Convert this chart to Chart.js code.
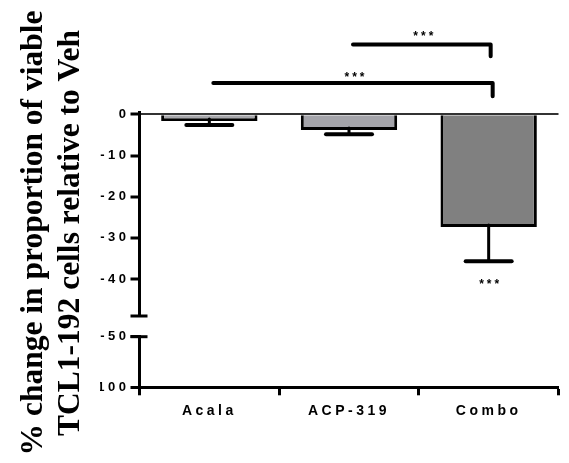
<!DOCTYPE html>
<html>
<head>
<meta charset="utf-8">
<script src="https://cdn.jsdelivr.net/npm/chart.js@4"></script>
<style>
  html, body { margin: 0; padding: 0; background: #fff; }
  #wrap { width: 569px; height: 463px; position: relative; }
</style>
</head>
<body>
<div id="wrap"><canvas id="chart"></canvas></div>
<script>
// values (% change vs vehicle, mean and SEM)
const categories = ['Acala', 'ACP-319', 'Combo'];
const meanChange = [-1.6, -3.8, -27.4];
const semChange = [1.0, 1.05, 8.3];

// broken y axis: upper segment and lower segment
const upperTicks = [0, -10, -20, -30, -40];
const lowerTicks = [-50, -100];
const upperRange = [-49, 0.4];
const lowerRange = [-100, -50];

// significance brackets (levels in upper-axis units)
const bracketFrom = [1, 0];
const bracketTo = [2, 2];
const bracketLevel = [17.0, 7.6];
const bracketDrop = [14.1, 4.4];
const bracketStarLevel = [19.5, 9.6];
const comboStarLevel = -40.6;

const yTitle = ['% change in proportion of viable', 'TCL1-192 cells relative to Veh'];

Chart.defaults.font.family = '"Liberation Sans", Arial, sans-serif';
Chart.defaults.font.weight = 'bold';
Chart.defaults.color = '#000';

const xFont = { family: '"Liberation Sans", Arial, sans-serif', size: 14, weight: 'bold' };
const yFont = { family: '"Liberation Sans", Arial, sans-serif', size: 13, weight: 'bold' };

const spacing = {
    id: 'spacing',
    beforeDraw(chart) { chart.ctx.letterSpacing = '3.5px'; }
};

const extras = {
    id: 'extras',
    afterDatasetsDraw(chart) {
        const ctx = chart.ctx;
        const x = chart.scales.x, y = chart.scales.y, y2 = chart.scales.y2;
        const meta = chart.getDatasetMeta(0);
        ctx.save();
        ctx.strokeStyle = '#000';
        ctx.lineCap = 'round';
        // error bars (downward only)
        meta.data.forEach((bar, i) => {
            const yBot = y.getPixelForValue(meanChange[i]);
            const yErr = y.getPixelForValue(meanChange[i] - semChange[i]);
            ctx.lineWidth = 3;
            ctx.beginPath();
            ctx.moveTo(bar.x, yBot - 2);
            ctx.lineTo(bar.x, yErr);
            ctx.stroke();
            ctx.lineWidth = 4;
            ctx.beginPath();
            ctx.moveTo(bar.x - 23, yErr);
            ctx.lineTo(bar.x + 23, yErr);
            ctx.stroke();
        });
        // axis break caps
        ctx.lineCap = 'butt';
        ctx.lineWidth = 3;
        const ax = chart.chartArea.left;
        [y.getPixelForValue(upperRange[0]), y2.getPixelForValue(lowerRange[1])].forEach(py => {
            ctx.beginPath();
            ctx.moveTo(ax - 9, py);
            ctx.lineTo(ax + 8, py);
            ctx.stroke();
        });
        // brackets
        ctx.lineCap = 'round';
        ctx.lineJoin = 'round';
        ctx.lineWidth = 4;
        ctx.fillStyle = '#000';
        ctx.font = 'bold 12px "Liberation Sans", Arial, sans-serif';
        ctx.letterSpacing = '3px';
        ctx.textAlign = 'center';
        ctx.textBaseline = 'middle';
        bracketFrom.forEach((a, i) => {
            const xa = x.getPixelForValue(a) + 4;
            const xb = x.getPixelForValue(bracketTo[i]) + 2 + i * 2;
            const yl = y.getPixelForValue(bracketLevel[i]);
            const yd = y.getPixelForValue(bracketDrop[i]);
            ctx.beginPath();
            ctx.moveTo(xa, yl);
            ctx.lineTo(xb, yl);
            ctx.lineTo(xb, yd);
            ctx.stroke();
            ctx.fillText('***', (xa + xb) / 2 + 3, y.getPixelForValue(bracketStarLevel[i]) + 3);
        });
        ctx.fillText('***', x.getPixelForValue(2) + 2, y.getPixelForValue(comboStarLevel) + 3);
        ctx.restore();
    },
    afterDraw(chart) {
        const ctx = chart.ctx;
        ctx.save();
        ctx.letterSpacing = '0px';
        ctx.fillStyle = '#000';
        ctx.font = 'bold 31.5px "Liberation Serif", "Times New Roman", serif';
        ctx.textAlign = 'center';
        ctx.textBaseline = 'alphabetic';
        [42, 79].forEach((bx, i) => {
            ctx.save();
            ctx.translate(bx, 233);
            ctx.rotate(-Math.PI / 2);
            ctx.fillText(yTitle[i], 0, 0);
            ctx.restore();
        });
        ctx.restore();
    }
};

const fixWidth = s => { s.width = 39.5; };

new Chart(document.getElementById('chart'), {
    type: 'bar',
    data: {
        labels: categories,
        datasets: [{
            data: meanChange,
            yAxisID: 'y',
            backgroundColor: ['#a8a8ac', '#a4a4aa', '#808080'],
            borderColor: '#000',
            borderWidth: 3,
            barPercentage: 0.69,
            categoryPercentage: 1.0
        }]
    },
    options: {
        responsive: true,
        maintainAspectRatio: false,
        animation: false,
        layout: { padding: { left: 100, right: 10.5, top: 112.7, bottom: 35.7 } },
        plugins: { legend: { display: false }, tooltip: { enabled: false } },
        scales: {
            x: {
                grid: { drawOnChartArea: false, tickLength: 8, tickColor: '#000', tickWidth: 3 },
                border: { color: '#000', width: 3 },
                ticks: { color: '#000', font: xFont, padding: 7, maxRotation: 0 },
                afterFit: s => { s.height = 40; }
            },
            y: {
                position: 'left', stack: 'v', stackWeight: 203.3, weight: 3,
                min: upperRange[0], max: upperRange[1],
                afterBuildTicks: s => { s.ticks = upperTicks.map(v => ({ value: v })); },
                afterFit: fixWidth,
                grid: {
                    color: c => c.tick && c.tick.value === 0 ? '#333' : 'rgba(0,0,0,0)',
                    lineWidth: 2,
                    tickColor: '#000', tickWidth: 3, tickLength: 9
                },
                border: { color: '#000', width: 3 },
                ticks: { color: '#000', font: yFont, padding: 1 }
            },
            gap: {
                type: 'linear', position: 'left', stack: 'v', stackWeight: 20.7, weight: 2,
                min: 0, max: 1,
                afterFit: fixWidth,
                grid: { display: false },
                border: { display: false },
                ticks: { display: false }
            },
            y2: {
                type: 'linear', position: 'left', stack: 'v', stackWeight: 50.6, weight: 1,
                min: lowerRange[0], max: lowerRange[1],
                afterBuildTicks: s => { s.ticks = lowerTicks.map(v => ({ value: v })); },
                afterFit: fixWidth,
                grid: { drawOnChartArea: false, tickColor: '#000', tickWidth: 3, tickLength: 9 },
                border: { color: '#000', width: 3 },
                ticks: { color: '#000', font: yFont, padding: 1 }
            }
        }
    },
    plugins: [spacing, extras]
});
</script>
</body>
</html>
